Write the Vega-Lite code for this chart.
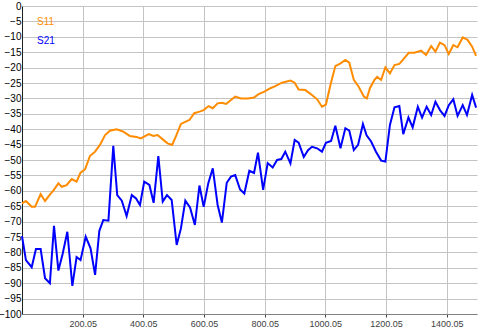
{
  "$schema": "https://vega.github.io/schema/vega-lite/v6.json",
  "width": 455,
  "height": 308,
  "autosize": {"type": "none"},
  "padding": {"left": 22, "top": 6, "right": 3, "bottom": 16},
  "background": "white",
  "config": {
    "view": {"stroke": null},
    "axis": {"labelFont": "Liberation Sans", "gridColor": "#c4c4c4", "gridWidth": 1, "gridOpacity": 1}
  },
  "datasets": {
    "S11": [
      {"f": 0.05, "v": -64.1}, {"f": 13, "v": -63.3}, {"f": 32, "v": -65.2}, {"f": 43, "v": -65.2}, {"f": 61.5, "v": -61.1},
      {"f": 76, "v": -63.3}, {"f": 94.5, "v": -60.9}, {"f": 103, "v": -60}, {"f": 120, "v": -57.6}, {"f": 131, "v": -58.7},
      {"f": 147, "v": -58.2}, {"f": 164, "v": -56.2}, {"f": 180, "v": -57}, {"f": 193, "v": -54.1}, {"f": 208, "v": -53},
      {"f": 224, "v": -48.7}, {"f": 241, "v": -47.3}, {"f": 257, "v": -45.1}, {"f": 274, "v": -41.9}, {"f": 290, "v": -40.5},
      {"f": 312, "v": -40}, {"f": 334, "v": -40.8}, {"f": 356, "v": -42.2}, {"f": 377, "v": -42.5}, {"f": 392, "v": -43},
      {"f": 418, "v": -41.6}, {"f": 433, "v": -42.2}, {"f": 447, "v": -41.9}, {"f": 464, "v": -43.3}, {"f": 480, "v": -44.6},
      {"f": 495, "v": -45.1}, {"f": 508, "v": -42.2}, {"f": 524, "v": -38.3}, {"f": 538, "v": -37.6}, {"f": 552, "v": -37},
      {"f": 568, "v": -34.8}, {"f": 585, "v": -34.3}, {"f": 599, "v": -33.8}, {"f": 615, "v": -32.5}, {"f": 629, "v": -33.2},
      {"f": 645, "v": -31.6}, {"f": 659, "v": -31.4}, {"f": 673, "v": -31.8}, {"f": 689, "v": -30.5}, {"f": 703, "v": -29.4},
      {"f": 722, "v": -30}, {"f": 744, "v": -30}, {"f": 765, "v": -29.7}, {"f": 780, "v": -28.6}, {"f": 799, "v": -27.8},
      {"f": 819, "v": -26.7}, {"f": 835, "v": -26}, {"f": 857, "v": -24.9}, {"f": 885, "v": -24.2}, {"f": 899, "v": -24.9},
      {"f": 912, "v": -27.1}, {"f": 934, "v": -27.3}, {"f": 956, "v": -28.9}, {"f": 973, "v": -30.3}, {"f": 989, "v": -32.7},
      {"f": 1002, "v": -32}, {"f": 1017, "v": -25.6}, {"f": 1033, "v": -19.5}, {"f": 1050, "v": -18.6}, {"f": 1066, "v": -17.5},
      {"f": 1079, "v": -18.4}, {"f": 1094, "v": -24}, {"f": 1110, "v": -26.2}, {"f": 1127, "v": -29.4}, {"f": 1137, "v": -30},
      {"f": 1147, "v": -26.7}, {"f": 1162, "v": -24}, {"f": 1171, "v": -23}, {"f": 1184, "v": -24}, {"f": 1198, "v": -19.9},
      {"f": 1213, "v": -21.9}, {"f": 1228, "v": -19.2}, {"f": 1244, "v": -18.8}, {"f": 1257, "v": -17.3}, {"f": 1275, "v": -15.2},
      {"f": 1294, "v": -15.2}, {"f": 1316, "v": -14.5}, {"f": 1332, "v": -15.9}, {"f": 1349, "v": -13}, {"f": 1363, "v": -14.8},
      {"f": 1378, "v": -11.9}, {"f": 1393, "v": -12.7}, {"f": 1407, "v": -15.6}, {"f": 1422, "v": -12.7}, {"f": 1436, "v": -13.4},
      {"f": 1453, "v": -10.2}, {"f": 1469, "v": -11}, {"f": 1484, "v": -13.2}, {"f": 1497, "v": -16.2}
    ],
    "S21": [
      {"f": 0.05, "v": -74.7}, {"f": 13, "v": -82.5}, {"f": 32, "v": -84.8}, {"f": 46, "v": -78.9}, {"f": 61.5, "v": -78.9},
      {"f": 76, "v": -88.4}, {"f": 92, "v": -90}, {"f": 105.5, "v": -71.4}, {"f": 120, "v": -85.9}, {"f": 134, "v": -80.5},
      {"f": 149.5, "v": -73.3}, {"f": 166, "v": -90.9}, {"f": 180, "v": -81.5}, {"f": 193, "v": -82.5}, {"f": 210, "v": -74.9},
      {"f": 226, "v": -78.7}, {"f": 241, "v": -87.3}, {"f": 255, "v": -73}, {"f": 268, "v": -69.5}, {"f": 285, "v": -69.7},
      {"f": 301, "v": -45.4}, {"f": 314, "v": -61.4}, {"f": 329, "v": -63.2}, {"f": 345, "v": -68.2}, {"f": 362, "v": -61.4},
      {"f": 376, "v": -62.5}, {"f": 389, "v": -64.6}, {"f": 403, "v": -57}, {"f": 420, "v": -58.1}, {"f": 434, "v": -63.9},
      {"f": 449.5, "v": -48.7}, {"f": 464, "v": -63.5}, {"f": 478, "v": -61.4}, {"f": 493.5, "v": -63}, {"f": 510, "v": -77.6},
      {"f": 524, "v": -72.2}, {"f": 538.5, "v": -63.2}, {"f": 554, "v": -65.4}, {"f": 570, "v": -71.1}, {"f": 585, "v": -58.3},
      {"f": 599, "v": -65.2}, {"f": 614, "v": -57.6}, {"f": 629, "v": -52.7}, {"f": 645, "v": -64.6}, {"f": 659, "v": -70.3},
      {"f": 675, "v": -57.4}, {"f": 689, "v": -55.4}, {"f": 703, "v": -54.9}, {"f": 719, "v": -59.6}, {"f": 733, "v": -60.9},
      {"f": 749.5, "v": -53.5}, {"f": 765, "v": -54.2}, {"f": 778, "v": -47.6}, {"f": 795, "v": -59.7}, {"f": 810, "v": -51},
      {"f": 826.5, "v": -52.4}, {"f": 841, "v": -50}, {"f": 855, "v": -49.7}, {"f": 868, "v": -47.3}, {"f": 885, "v": -51.1},
      {"f": 899, "v": -43.5}, {"f": 912, "v": -44.4}, {"f": 929, "v": -49}, {"f": 943, "v": -46.8}, {"f": 956, "v": -45.7},
      {"f": 973, "v": -46.2}, {"f": 989, "v": -47.3}, {"f": 1002, "v": -44.4}, {"f": 1019, "v": -43.8}, {"f": 1033, "v": -38.9},
      {"f": 1050, "v": -46.2}, {"f": 1066, "v": -39.7}, {"f": 1079, "v": -40.5}, {"f": 1094, "v": -46.8}, {"f": 1108, "v": -45.1},
      {"f": 1124, "v": -38.3}, {"f": 1136, "v": -42}, {"f": 1151, "v": -44}, {"f": 1167, "v": -47.3}, {"f": 1184, "v": -50.2},
      {"f": 1198, "v": -50.5}, {"f": 1213, "v": -38.6}, {"f": 1228, "v": -32.9}, {"f": 1244, "v": -32.5}, {"f": 1257, "v": -41.6},
      {"f": 1274, "v": -36.2}, {"f": 1288, "v": -39.4}, {"f": 1305, "v": -32.7}, {"f": 1319, "v": -36.2}, {"f": 1334, "v": -32.7},
      {"f": 1349, "v": -35.4}, {"f": 1363, "v": -31.1}, {"f": 1378, "v": -33.8}, {"f": 1393, "v": -35.7}, {"f": 1407, "v": -32.2},
      {"f": 1422, "v": -30.3}, {"f": 1436, "v": -35.7}, {"f": 1453, "v": -32.2}, {"f": 1467, "v": -35.4}, {"f": 1484, "v": -28.9},
      {"f": 1497, "v": -33}
    ]
  },
  "layer": [
    {
      "data": {"name": "S11"},
      "transform": [{"calculate": "'S11'", "as": "s"}],
      "mark": {"type": "line", "strokeWidth": 2},
      "encoding": {
        "x": {"field": "f", "type": "quantitative"},
        "y": {"field": "v", "type": "quantitative"},
        "color": {"field": "s", "type": "nominal"}
      }
    },
    {
      "data": {"name": "S21"},
      "transform": [{"calculate": "'S21'", "as": "s"}],
      "mark": {"type": "line", "strokeWidth": 2},
      "encoding": {
        "x": {"field": "f", "type": "quantitative"},
        "y": {"field": "v", "type": "quantitative"},
        "color": {"field": "s", "type": "nominal"}
      }
    }
  ],
  "resolve": {"scale": {"x": "shared", "y": "shared", "color": "shared"}},
  "encoding": {
    "x": {
      "field": "f", "type": "quantitative",
      "scale": {"domain": [0.05, 1500.05], "nice": false, "zero": false},
      "axis": {
        "title": null, "values": [200.05, 400.05, 600.05, 800.05, 1000.05, 1200.05, 1400.05], "format": ".2f",
        "labelFontSize": 9, "labelColor": "#404040", "labelPadding": 2,
        "tickSize": 3, "tickColor": "#404040", "domainColor": "#808080", "grid": true
      }
    },
    "y": {
      "field": "v", "type": "quantitative",
      "scale": {"domain": [-100, 0], "nice": false},
      "axis": {
        "title": null,
        "values": [-100, -95, -90, -85, -80, -75, -70, -65, -60, -55, -50, -45, -40, -35, -30, -25, -20, -15, -10, -5, 0],
        "labelFontSize": 10, "labelColor": "#000000", "labelPadding": 1, "ticks": false,
        "domainColor": "#202020", "grid": true
      }
    },
    "color": {
      "field": "s", "type": "nominal",
      "scale": {"domain": ["S11", "S21"], "range": ["#ff8c00", "#0000ff"]},
      "legend": {
        "title": null, "orient": "none", "legendX": 5, "legendY": 11,
        "symbolSize": 0, "symbolOpacity": 0, "labelOffset": 0, "labelFontSize": 10,
        "labelFont": "Liberation Sans", "rowPadding": 9,
        "encode": {"labels": {"update": {"fill": {"scale": "color", "field": "value"}}}}
      }
    }
  }
}
